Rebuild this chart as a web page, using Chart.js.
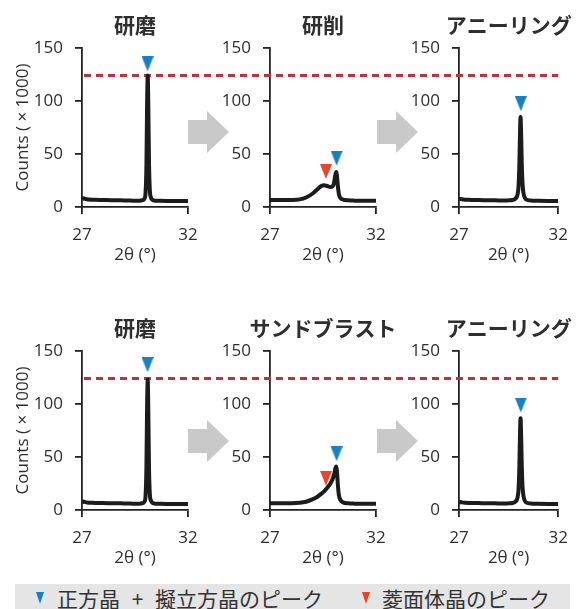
<!DOCTYPE html>
<html lang="ja">
<head>
<meta charset="utf-8">
<script src="https://cdn.jsdelivr.net/npm/chart.js@4/dist/chart.umd.min.js"></script>
<style>
  html, body { margin: 0; padding: 0; background: #fff; }
  body { width: 579px; height: 609px; position: relative; overflow: hidden;
         font-family: "Noto Sans CJK JP", "Open Sans", sans-serif; }
  .panel { position: absolute; }
  .arrow { position: absolute; width: 41px; height: 42px; background: #c9c9c9;
           clip-path: polygon(0 9px, 19px 9px, 19px 0, 41px 21px, 19px 42px, 19px 33px, 0 33px); }
  .legend { position: absolute; left: 15px; top: 584px; width: 555px; height: 25px; background: #e5e5e5; overflow: hidden; }
  .legend .txt { position: absolute; top: 1px; font-size: 21px; line-height: 26px; color: #333; white-space: nowrap; }
  .legend .tri { position: absolute; top: 8px; width: 8px; height: 12px; clip-path: polygon(0 0, 100% 0, 50% 100%); }
</style>
</head>
<body>

<div class="arrow" style="left:188px; top:111px;"></div>
<div class="arrow" style="left:377px; top:111px;"></div>
<div class="arrow" style="left:188px; top:420px;"></div>
<div class="arrow" style="left:377px; top:420px;"></div>

<div class="legend">
  <span class="tri" style="left:21px; background:#1a80c4;"></span>
  <span class="txt" style="left:42px; word-spacing:7px;">正方晶 + 擬立方晶のピーク</span>
  <span class="tri" style="left:347px; background:#e8452a;"></span>
  <span class="txt" style="left:367px;">菱面体晶のピーク</span>
</div>

<script>
// 2θ sampling points (degrees), shared by every profile
const twoTheta = [27.00, 27.08, 27.15, 27.30, 27.60, 28.00, 28.40, 28.70, 29.00, 29.20,
                  29.40, 29.55, 29.70, 29.85, 29.95, 30.00, 30.04, 30.07, 30.10, 30.13,
                  30.16, 30.20, 30.25, 30.32, 30.45, 30.70, 31.00, 31.50, 32.00];

// Counts (x 1000), top row
const polishedTop = [7.2, 8.3, 7.6, 7.0, 6.8, 6.6, 6.4, 6.3, 6.2, 6.1,
                     6.0, 6.0, 6.0, 6.3, 8.0, 14, 40, 95, 124, 92,
                     42, 16, 9.0, 6.8, 6.0, 5.8, 5.7, 5.6, 5.6];
const groundTop   = [6.6, 6.6, 6.6, 6.5, 6.5, 6.6, 7.2, 9.0, 12.5, 16,
                     19.5, 20.5, 19.8, 18.8, 19.5, 21, 25, 29, 32, 33,
                     29, 20, 12, 8.5, 7.0, 6.3, 6.0, 5.8, 5.8];
const annealedTop = [7.0, 7.6, 7.3, 6.9, 6.7, 6.5, 6.4, 6.3, 6.2, 6.2,
                     6.2, 6.3, 6.6, 8.0, 12, 20, 40, 68, 85, 68,
                     42, 22, 13, 8.5, 6.6, 6.0, 5.8, 5.7, 5.7];

// Counts (x 1000), bottom row
const polishedBottom = [7.0, 8.0, 7.4, 6.9, 6.7, 6.5, 6.4, 6.3, 6.2, 6.1,
                        6.0, 6.0, 6.0, 6.3, 8.0, 14, 42, 96, 123, 90,
                        40, 15, 9.0, 6.8, 6.0, 5.8, 5.7, 5.6, 5.6];
const blastedBottom  = [6.4, 6.4, 6.4, 6.4, 6.4, 6.4, 6.8, 7.8, 10, 12,
                        15, 17.5, 21, 25, 29, 32, 35, 38, 40, 41,
                        36, 24, 14, 9.5, 7.2, 6.3, 6.0, 5.8, 5.8];
const annealedBottom = [7.0, 7.5, 7.2, 6.8, 6.6, 6.5, 6.4, 6.3, 6.2, 6.2,
                        6.2, 6.3, 6.6, 8.0, 12, 20, 41, 70, 86.5, 70,
                        43, 22, 13, 8.5, 6.6, 6.0, 5.8, 5.7, 5.7];

const rowTitles = [['研磨', '研削', 'アニーリング'],
                   ['研磨', 'サンドブラスト', 'アニーリング']];

// Peak markers [2θ, counts]; null where a panel has none
const tetragonalMarks   = [[[30.09, 135], [30.14, 46], [30.11, 97.5]],
                           [[30.09, 137], [30.14, 53], [30.11, 99]]];
const rhombohedralMarks = [[null, [29.64, 33.5], null],
                           [null, [29.64, 30], null]];

const referenceCounts = 124;          // dashed reference level
const xTickValues = [27, 32];
const yTickValues = [0, 50, 100, 150];
const yAxisTitle = 'Counts ( × 1000)';
const xAxisTitle = '2θ (°)';

const profiles = [[polishedTop, groundTop, annealedTop],
                  [polishedBottom, blastedBottom, annealedBottom]];

// ---- layout of the six panels ----
const colLeft   = [0, 190, 380];
const colWidth  = [210, 210, 199];
const yAxisW    = [82, 80, 79];        // canvas x of the plot's left edge
const plotW     = 106;
const rowTop    = [0, 300];
const rowPadTop = [48, 51];
const plotH     = 159;
const canvasH   = 290;
const xAxisH    = 80;

const INK = '#222';
const TEXT = '#2e2e2e';
const tickFont = { family: '"Open Sans", "Noto Sans", sans-serif', size: 17 };

function downTriangle(color) {
  const c = document.createElement('canvas');
  c.width = 12; c.height = 15;
  const g = c.getContext('2d');
  g.fillStyle = color;
  g.beginPath(); g.moveTo(0, 0); g.lineTo(12, 0); g.lineTo(6, 15); g.closePath(); g.fill();
  return c;
}
const blueTri = downTriangle('#1a80c4');
const redTri  = downTriangle('#e8452a');

function decorPlugin(title, col, left) {
  return {
    id: 'panelDecor',
    beforeDatasetsDraw(chart) {
      const { ctx, chartArea, scales } = chart;
      const y = scales.y.getPixelForValue(referenceCounts);
      const from = col === 0 ? chartArea.left + 2 : 20;
      const to = col === 2 ? chartArea.right : chart.width;
      ctx.save();
      ctx.strokeStyle = '#b8333b';
      ctx.lineWidth = 3;
      ctx.setLineDash([7, 5]);
      ctx.lineDashOffset = ((left + from - 84) % 12 + 12) % 12;
      ctx.beginPath(); ctx.moveTo(from, y); ctx.lineTo(to, y); ctx.stroke();
      ctx.restore();
    },
    afterDraw(chart) {
      const { ctx, chartArea } = chart;
      ctx.save();
      ctx.fillStyle = TEXT;
      ctx.font = 'bold 21px "Noto Sans CJK JP", sans-serif';
      ctx.textAlign = 'center';
      ctx.textBaseline = 'middle';
      ctx.fillText(title, (chartArea.left + chartArea.right) / 2, chartArea.top - 23);
      ctx.restore();
    }
  };
}

function buildPanel(row, col) {
  const canvas = document.createElement('canvas');
  canvas.width = colWidth[col];
  canvas.height = canvasH;
  canvas.className = 'panel';
  canvas.style.left = colLeft[col] + 'px';
  canvas.style.top = rowTop[row] + 'px';
  canvas.style.width = colWidth[col] + 'px';
  canvas.style.height = canvasH + 'px';
  document.body.appendChild(canvas);

  const ys = profiles[row][col];
  const datasets = [{
    data: twoTheta.map((x, i) => ({ x, y: ys[i] })),
    borderColor: '#1c1c1c',
    borderWidth: 4,
    pointRadius: 0,
    cubicInterpolationMode: 'monotone',
    fill: false,
    order: 2
  }];
  const blue = tetragonalMarks[row][col];
  if (blue) datasets.push({ data: [{ x: blue[0], y: blue[1] }], showLine: false,
                            pointStyle: blueTri, pointRadius: 7, order: 1 });
  const red = rhombohedralMarks[row][col];
  if (red) datasets.push({ data: [{ x: red[0], y: red[1] }], showLine: false,
                           pointStyle: redTri, pointRadius: 7, order: 1 });

  const padTop = rowPadTop[row];
  const padRight = colWidth[col] - yAxisW[col] - plotW;
  const padBottom = canvasH - padTop - plotH - xAxisH;

  new Chart(canvas, {
    type: 'line',
    data: { datasets },
    options: {
      responsive: false,
      animation: false,
      devicePixelRatio: 1,
      layout: { padding: { top: padTop, right: padRight, bottom: padBottom, left: 0 } },
      plugins: { legend: { display: false }, tooltip: { enabled: false }, title: { display: false } },
      scales: {
        x: {
          type: 'linear', min: xTickValues[0], max: xTickValues[xTickValues.length - 1],
          afterBuildTicks: s => { s.ticks = xTickValues.map(v => ({ value: v })); },
          afterFit: s => { s.height = xAxisH; },
          grid: { drawOnChartArea: false, drawTicks: true, tickLength: 7, color: INK, lineWidth: 1.8 },
          border: { color: INK, width: 1.8 },
          ticks: { color: TEXT, font: tickFont, padding: 11, maxRotation: 0 },
          title: { display: true, text: xAxisTitle, color: TEXT, font: tickFont, padding: { top: 0, bottom: 22 } }
        },
        y: {
          type: 'linear', min: yTickValues[0], max: yTickValues[yTickValues.length - 1],
          afterBuildTicks: s => { s.ticks = yTickValues.map(v => ({ value: v })); },
          afterFit: s => { s.width = yAxisW[col]; },
          grid: { drawOnChartArea: false, drawTicks: true, tickLength: 7, color: INK, lineWidth: 1.8 },
          border: { color: INK, width: 1.8 },
          ticks: { color: TEXT, font: tickFont, padding: 12 },
          title: { display: col === 0, text: yAxisTitle, color: TEXT, font: tickFont, padding: { top: 13, bottom: 0 } }
        }
      }
    },
    plugins: [decorPlugin(rowTitles[row][col], col, colLeft[col])]
  });
}

for (let r = 0; r < 2; r++) for (let c = 0; c < 3; c++) buildPanel(r, c);
</script>
</body>
</html>
